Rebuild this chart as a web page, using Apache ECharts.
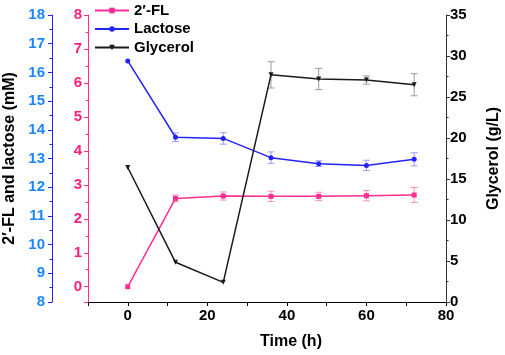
<!DOCTYPE html>
<html>
<head>
<meta charset="utf-8">
<script src="https://cdn.jsdelivr.net/npm/echarts@6/dist/echarts.min.js"></script>
<style>
    html, body { margin: 0; padding: 0; background: #fff; }
    #chart { width: 505px; height: 355px; }
</style>
</head>
<body>
<div id="chart"></div>
<script>
// 时间 (h)
const timeH = [0, 12, 24, 36, 48, 60, 72];
// 2'-FL (mM)
const flVals = [0, 2.6, 2.67, 2.66, 2.66, 2.68, 2.7];
const flErr = [0, 0.1, 0.12, 0.15, 0.12, 0.15, 0.22];
// Lactose (mM)
const lacVals = [16.4, 13.74, 13.7, 13.03, 12.82, 12.76, 12.97];
const lacErr = [0, 0.15, 0.2, 0.2, 0.1, 0.18, 0.23];
// Glycerol (g/L)
const glyVals = [16.4, 4.84, 2.4, 27.7, 27.2, 27.07, 26.5];
const glyErr = [0, 0, 0, 1.6, 1.3, 0.5, 1.35];

const FONT = '"Liberation Sans", Arial, sans-serif';
const pink = '#ff2e93',
    blue = '#2323ff',
    blueLabel = '#1c86ff',
    black = '#1a1a1a';

const pairs = (vals) => timeH.map((t, i) => [t, vals[i]]);
const errPairs = (vals, err) =>
    timeH.map((t, i) => [t, vals[i] - err[i], vals[i] + err[i]]).filter((d, i) => err[i] > 0);

function errorBar(color) {
    return function (params, api) {
        const lo = api.coord([api.value(0), api.value(1)]),
            hi = api.coord([api.value(0), api.value(2)]),
            w = 3.5;
        const style = { stroke: color, lineWidth: 1 };
        return {
            type: 'group',
            children: [
                { type: 'line', shape: { x1: lo[0], y1: lo[1], x2: hi[0], y2: hi[1] }, style },
                { type: 'line', shape: { x1: lo[0] - w, y1: lo[1], x2: lo[0] + w, y2: lo[1] }, style },
                { type: 'line', shape: { x1: hi[0] - w, y1: hi[1], x2: hi[0] + w, y2: hi[1] }, style },
            ],
        };
    };
}

const boldLabel = (color, margin) => ({
    color: color,
    fontFamily: FONT,
    fontWeight: 'bold',
    fontSize: 15,
    margin: margin,
});

const option = {
    animation: false,
    textStyle: { fontFamily: FONT },
    grid: { left: 88, right: 59, top: 15, bottom: 53, outerBoundsMode: 'none', containLabel: false },
    legend: {
        left: 89,
        top: -2,
        orient: 'vertical',
        itemWidth: 34,
        itemHeight: 7,
        itemGap: 3.5,
        data: ["2′-FL", 'Lactose', 'Glycerol'],
        textStyle: { fontFamily: FONT, fontWeight: 'bold', fontSize: 15, color: '#000' },
    },
    xAxis: {
        type: 'value',
        min: -10,
        max: 80,
        interval: 10,
        name: 'Time (h)',
        nameLocation: 'middle',
        nameGap: 32,
        nameTextStyle: {
            fontFamily: FONT,
            fontWeight: 'bold',
            fontSize: 16,
            color: '#000',
            padding: [0, 0, 0, 48],
        },
        axisLine: { onZero: false, lineStyle: { color: '#000', width: 1 } },
        axisTick: { length: 4, lineStyle: { color: '#000' } },
        axisLabel: Object.assign(boldLabel('#000', 6), {
            formatter: (v) => (v >= 0 && v % 20 === 0 ? String(v) : ''),
        }),
        splitLine: { show: false },
    },
    yAxis: [
        {
            // lactose axis (outer left)
            type: 'value',
            position: 'left',
            offset: 36,
            min: 8,
            max: 18,
            interval: 1,
            name: '2′-FL and lactose (mM)',
            nameLocation: 'middle',
            nameGap: 28,
            nameTextStyle: { fontFamily: FONT, fontWeight: 'bold', fontSize: 16, color: '#000' },
            axisLine: { show: true, onZero: false, lineStyle: { color: blue, width: 1 } },
            axisTick: { length: 4, lineStyle: { color: blue } },
            minorTick: { show: true, splitNumber: 2, length: 2.5, lineStyle: { color: blue } },
            axisLabel: boldLabel(blueLabel, 7),
            splitLine: { show: false },
        },
        {
            // 2'-FL axis (inner left)
            type: 'value',
            position: 'left',
            offset: 0,
            min: -0.45,
            max: 8,
            minInterval: 1,
            maxInterval: 1,
            splitNumber: 8,
            axisLine: { show: true, onZero: false, lineStyle: { color: pink, width: 1 } },
            axisTick: { length: 4, lineStyle: { color: pink } },
            minorTick: { show: true, splitNumber: 2, length: 2.5, lineStyle: { color: pink } },
            axisLabel: Object.assign(boldLabel('#ff1f7a', 6), {
                showMinLabel: false,
                formatter: (v) => (Number.isInteger(v) ? String(v) : ''),
            }),
            splitLine: { show: false },
        },
        {
            // glycerol axis (right)
            type: 'value',
            position: 'right',
            min: 0,
            max: 35,
            interval: 5,
            name: 'Glycerol (g/L)',
            nameLocation: 'middle',
            nameGap: 40,
            nameTextStyle: { fontFamily: FONT, fontWeight: 'bold', fontSize: 16, color: '#000' },
            axisLine: { show: true, onZero: false, lineStyle: { color: '#333', width: 1 } },
            axisTick: { length: 4, lineStyle: { color: '#333' } },
            minorTick: { show: true, splitNumber: 2, length: 2.5, lineStyle: { color: '#333' } },
            axisLabel: boldLabel('#000', 4),
            splitLine: { show: false },
        },
    ],
    series: [
        {
            name: "2′-FL",
            type: 'line',
            yAxisIndex: 1,
            data: pairs(flVals),
            symbol: 'rect',
            symbolSize: 5,
            lineStyle: { color: pink, width: 1.5 },
            itemStyle: { color: pink },
            z: 3,
        },
        {
            name: 'Lactose',
            type: 'line',
            yAxisIndex: 0,
            data: pairs(lacVals),
            symbol: 'circle',
            symbolSize: 5,
            lineStyle: { color: blue, width: 1.5 },
            itemStyle: { color: blue },
            z: 3,
        },
        {
            name: 'Glycerol',
            type: 'line',
            yAxisIndex: 2,
            data: pairs(glyVals),
            symbol: 'triangle',
            symbolRotate: 180,
            symbolSize: 5,
            lineStyle: { color: black, width: 1.5 },
            itemStyle: { color: black },
            z: 3,
        },
        {
            type: 'custom',
            yAxisIndex: 1,
            data: errPairs(flVals, flErr),
            renderItem: errorBar('#ff8ec4'),
            z: 2,
        },
        {
            type: 'custom',
            yAxisIndex: 0,
            data: errPairs(lacVals, lacErr),
            renderItem: errorBar('#9c9cff'),
            z: 2,
        },
        {
            type: 'custom',
            yAxisIndex: 2,
            data: errPairs(glyVals, glyErr),
            renderItem: errorBar('#9a9a9a'),
            z: 2,
        },
    ],
};

const myChart = echarts.init(document.getElementById('chart'));
myChart.setOption(option);
</script>
</body>
</html>
